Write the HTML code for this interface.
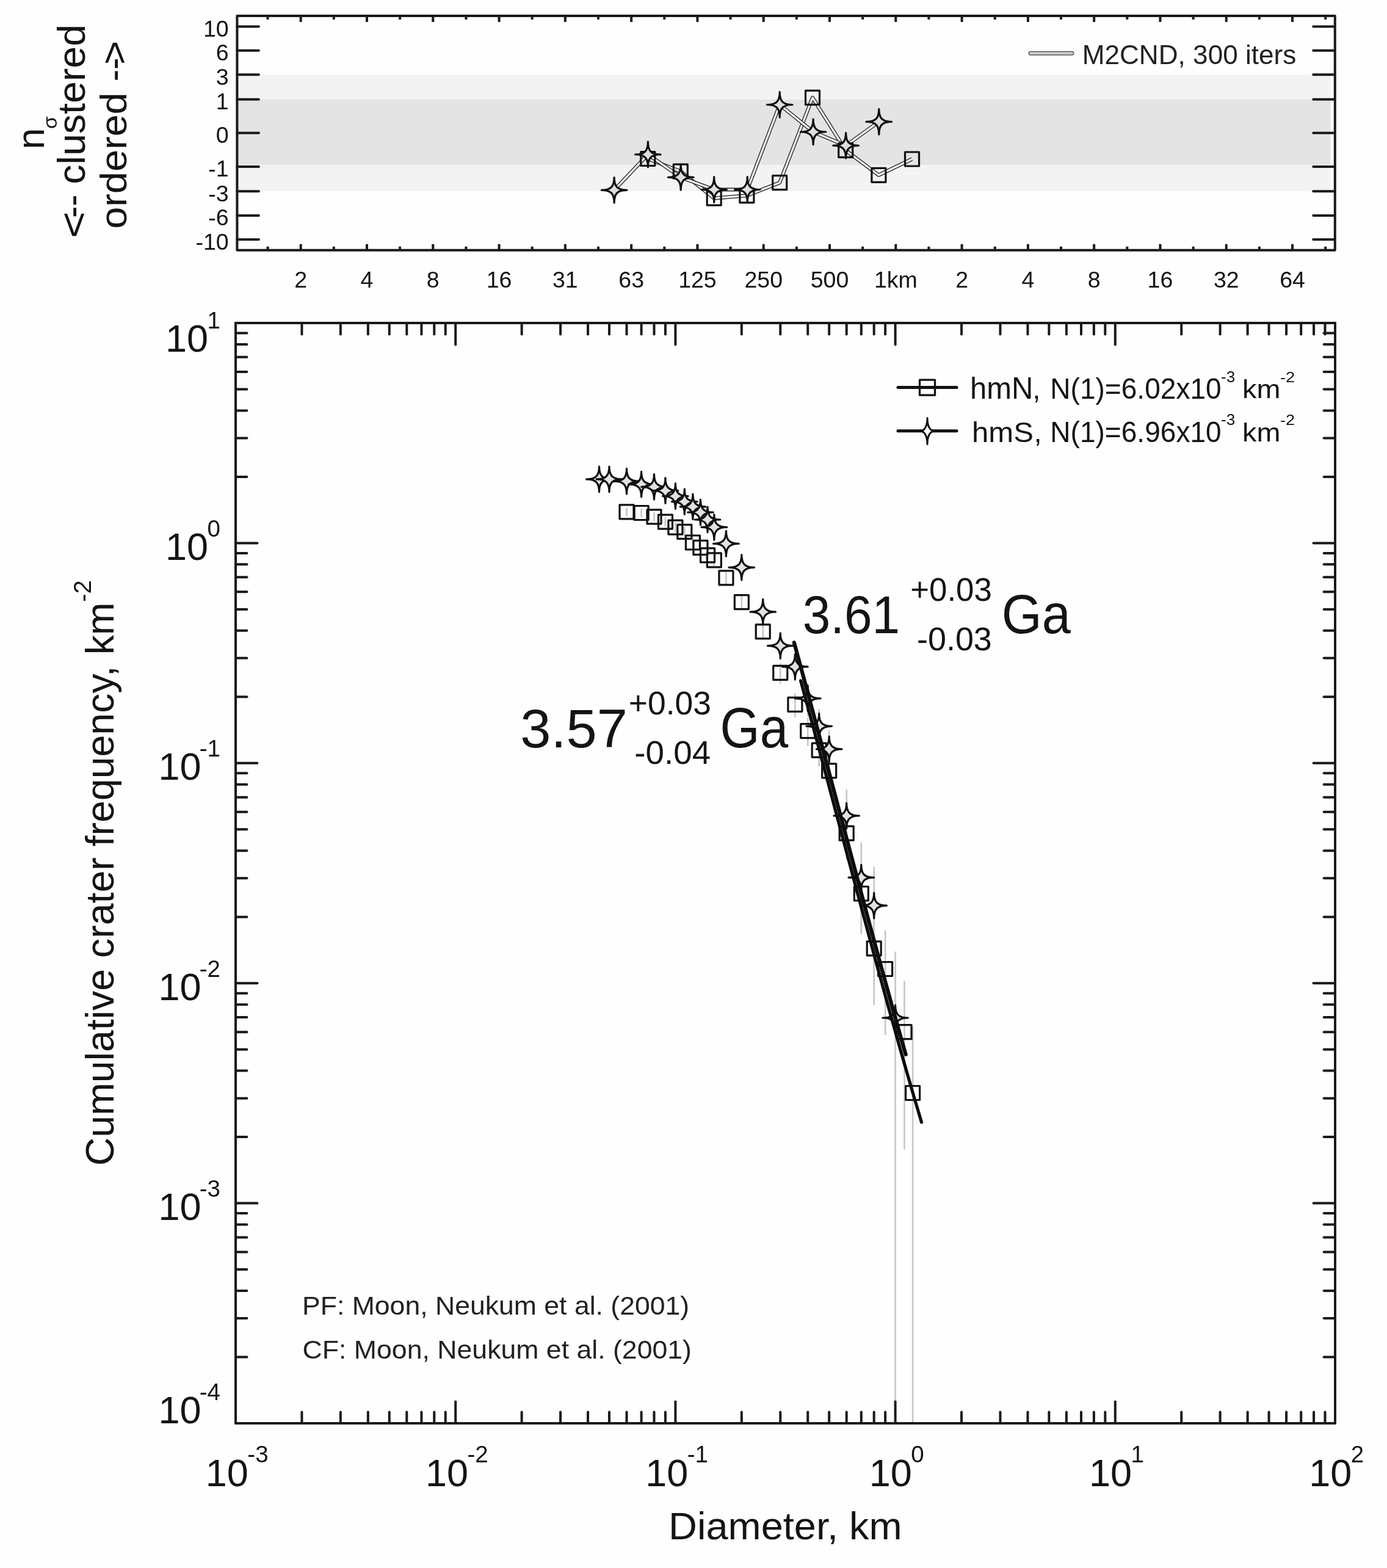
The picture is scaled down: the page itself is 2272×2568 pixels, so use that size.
<!DOCTYPE html>
<html><head><meta charset="utf-8"><title>Crater size-frequency distribution</title>
<style>
html,body{margin:0;padding:0;background:#fefefe;}
svg{display:block;}
text{font-family:'Liberation Sans', Arial, Helvetica, sans-serif;}
</style></head>
<body>
<svg width="2272" height="2568" viewBox="0 0 2272 2568">
<rect width="2272" height="2568" fill="#fefefe"/>
<g>
<rect x="388.4" y="122.5" width="1791.1999999999998" height="190.5" fill="#f3f3f3"/>
<rect x="388.4" y="163" width="1791.1999999999998" height="107" fill="#e4e4e4"/>
<path d="M12,480.5 H87.5 V2566" fill="none" stroke="#fbfbfb" stroke-width="4"/>
<line x1="1026.49" y1="831.3" x2="1026.49" y2="845.63" stroke="#c6c6c6" stroke-width="2.6"/>
<line x1="1050.6" y1="832.96" x2="1050.6" y2="847.37" stroke="#c6c6c6" stroke-width="2.6"/>
<line x1="1071.49" y1="839.12" x2="1071.49" y2="853.82" stroke="#c6c6c6" stroke-width="2.6"/>
<line x1="1089.92" y1="847.24" x2="1089.92" y2="862.33" stroke="#c6c6c6" stroke-width="2.6"/>
<line x1="1106.4" y1="856.03" x2="1106.4" y2="871.56" stroke="#c6c6c6" stroke-width="2.6"/>
<line x1="1121.31" y1="863.15" x2="1121.31" y2="879.05" stroke="#c6c6c6" stroke-width="2.6"/>
<line x1="1134.92" y1="880.32" x2="1134.92" y2="897.14" stroke="#c6c6c6" stroke-width="2.6"/>
<line x1="1147.44" y1="888.5" x2="1147.44" y2="905.78" stroke="#c6c6c6" stroke-width="2.6"/>
<line x1="1159.04" y1="900.57" x2="1159.04" y2="918.54" stroke="#c6c6c6" stroke-width="2.6"/>
<line x1="1169.83" y1="908.35" x2="1169.83" y2="926.79" stroke="#c6c6c6" stroke-width="2.6"/>
<line x1="1189.41" y1="936.51" x2="1189.41" y2="956.74" stroke="#c6c6c6" stroke-width="2.6"/>
<line x1="1214.83" y1="975.12" x2="1214.83" y2="998.12" stroke="#c6c6c6" stroke-width="2.6"/>
<line x1="1249.74" y1="1021.57" x2="1249.74" y2="1048.38" stroke="#c6c6c6" stroke-width="2.6"/>
<line x1="1278.26" y1="1086.13" x2="1278.26" y2="1119.44" stroke="#c6c6c6" stroke-width="2.6"/>
<line x1="1302.37" y1="1135.36" x2="1302.37" y2="1174.7" stroke="#c6c6c6" stroke-width="2.6"/>
<line x1="1323.26" y1="1176" x2="1323.26" y2="1221.5" stroke="#c6c6c6" stroke-width="2.6"/>
<line x1="1341.69" y1="1205.62" x2="1341.69" y2="1255.54" stroke="#c6c6c6" stroke-width="2.6"/>
<line x1="1358.17" y1="1236.82" x2="1358.17" y2="1292.75" stroke="#c6c6c6" stroke-width="2.6"/>
<line x1="1386.69" y1="1330.71" x2="1386.69" y2="1408.18" stroke="#c6c6c6" stroke-width="2.6"/>
<line x1="1410.8" y1="1418.47" x2="1410.8" y2="1526.96" stroke="#c6c6c6" stroke-width="2.6"/>
<line x1="1431.69" y1="1495.44" x2="1431.69" y2="1646.08" stroke="#c6c6c6" stroke-width="2.6"/>
<line x1="1450.12" y1="1523.54" x2="1450.12" y2="1695.49" stroke="#c6c6c6" stroke-width="2.6"/>
<line x1="1481.51" y1="1606.49" x2="1481.51" y2="1882.4" stroke="#c6c6c6" stroke-width="2.6"/>
<line x1="1495.12" y1="1681.51" x2="1495.12" y2="2331" stroke="#c6c6c6" stroke-width="2.6"/>
<line x1="981.49" y1="776.7" x2="981.49" y2="793.55" stroke="#c6c6c6" stroke-width="2.6"/>
<line x1="997.97" y1="776.7" x2="997.97" y2="793.55" stroke="#c6c6c6" stroke-width="2.6"/>
<line x1="1026.49" y1="779.92" x2="1026.49" y2="796.94" stroke="#c6c6c6" stroke-width="2.6"/>
<line x1="1050.6" y1="784.79" x2="1050.6" y2="802.09" stroke="#c6c6c6" stroke-width="2.6"/>
<line x1="1071.49" y1="788.79" x2="1071.49" y2="806.3" stroke="#c6c6c6" stroke-width="2.6"/>
<line x1="1089.92" y1="794.81" x2="1089.92" y2="812.7" stroke="#c6c6c6" stroke-width="2.6"/>
<line x1="1106.4" y1="803.57" x2="1106.4" y2="821.97" stroke="#c6c6c6" stroke-width="2.6"/>
<line x1="1121.31" y1="812.42" x2="1121.31" y2="831.35" stroke="#c6c6c6" stroke-width="2.6"/>
<line x1="1134.92" y1="820.38" x2="1134.92" y2="839.82" stroke="#c6c6c6" stroke-width="2.6"/>
<line x1="1147.44" y1="829.31" x2="1147.44" y2="849.33" stroke="#c6c6c6" stroke-width="2.6"/>
<line x1="1159.04" y1="840.94" x2="1159.04" y2="861.75" stroke="#c6c6c6" stroke-width="2.6"/>
<line x1="1169.83" y1="852.96" x2="1169.83" y2="874.59" stroke="#c6c6c6" stroke-width="2.6"/>
<line x1="1189.41" y1="879.03" x2="1189.41" y2="902.67" stroke="#c6c6c6" stroke-width="2.6"/>
<line x1="1214.83" y1="916.51" x2="1214.83" y2="943.23" stroke="#c6c6c6" stroke-width="2.6"/>
<line x1="1249.74" y1="986.07" x2="1249.74" y2="1019.96" stroke="#c6c6c6" stroke-width="2.6"/>
<line x1="1278.26" y1="1038.74" x2="1278.26" y2="1079.04" stroke="#c6c6c6" stroke-width="2.6"/>
<line x1="1302.37" y1="1071" x2="1302.37" y2="1116.03" stroke="#c6c6c6" stroke-width="2.6"/>
<line x1="1323.26" y1="1119.46" x2="1323.26" y2="1172.88" stroke="#c6c6c6" stroke-width="2.6"/>
<line x1="1341.69" y1="1161.27" x2="1341.69" y2="1223.47" stroke="#c6c6c6" stroke-width="2.6"/>
<line x1="1358.17" y1="1196" x2="1358.17" y2="1265.43" stroke="#c6c6c6" stroke-width="2.6"/>
<line x1="1386.69" y1="1292.99" x2="1386.69" y2="1395.5" stroke="#c6c6c6" stroke-width="2.6"/>
<line x1="1410.8" y1="1379.34" x2="1410.8" y2="1529.98" stroke="#c6c6c6" stroke-width="2.6"/>
<line x1="1431.69" y1="1419.64" x2="1431.69" y2="1591.59" stroke="#c6c6c6" stroke-width="2.6"/>
<line x1="1466.6" y1="1558.51" x2="1466.6" y2="2331" stroke="#c6c6c6" stroke-width="2.6"/>
<rect x="1014.99" y="826.8" width="23" height="23" fill="none" stroke="#111" stroke-width="3.2" stroke-linejoin="round"/>
<rect x="1039.1" y="828.5" width="23" height="23" fill="none" stroke="#111" stroke-width="3.2" stroke-linejoin="round"/>
<rect x="1059.99" y="834.8" width="23" height="23" fill="none" stroke="#111" stroke-width="3.2" stroke-linejoin="round"/>
<rect x="1078.42" y="843.1" width="23" height="23" fill="none" stroke="#111" stroke-width="3.2" stroke-linejoin="round"/>
<rect x="1094.9" y="852.1" width="23" height="23" fill="none" stroke="#111" stroke-width="3.2" stroke-linejoin="round"/>
<rect x="1109.81" y="859.4" width="23" height="23" fill="none" stroke="#111" stroke-width="3.2" stroke-linejoin="round"/>
<rect x="1123.42" y="877" width="23" height="23" fill="none" stroke="#111" stroke-width="3.2" stroke-linejoin="round"/>
<rect x="1135.94" y="885.4" width="23" height="23" fill="none" stroke="#111" stroke-width="3.2" stroke-linejoin="round"/>
<rect x="1147.54" y="897.8" width="23" height="23" fill="none" stroke="#111" stroke-width="3.2" stroke-linejoin="round"/>
<rect x="1158.33" y="905.8" width="23" height="23" fill="none" stroke="#111" stroke-width="3.2" stroke-linejoin="round"/>
<rect x="1177.91" y="934.8" width="23" height="23" fill="none" stroke="#111" stroke-width="3.2" stroke-linejoin="round"/>
<rect x="1203.33" y="974.7" width="23" height="23" fill="none" stroke="#111" stroke-width="3.2" stroke-linejoin="round"/>
<rect x="1238.24" y="1022.9" width="23" height="23" fill="none" stroke="#111" stroke-width="3.2" stroke-linejoin="round"/>
<rect x="1266.76" y="1090.4" width="23" height="23" fill="none" stroke="#111" stroke-width="3.2" stroke-linejoin="round"/>
<rect x="1290.87" y="1142.3" width="23" height="23" fill="none" stroke="#111" stroke-width="3.2" stroke-linejoin="round"/>
<rect x="1311.76" y="1185.6" width="23" height="23" fill="none" stroke="#111" stroke-width="3.2" stroke-linejoin="round"/>
<rect x="1330.19" y="1217.1" width="23" height="23" fill="none" stroke="#111" stroke-width="3.2" stroke-linejoin="round"/>
<rect x="1346.67" y="1250.8" width="23" height="23" fill="none" stroke="#111" stroke-width="3.2" stroke-linejoin="round"/>
<rect x="1375.19" y="1353.2" width="23" height="23" fill="none" stroke="#111" stroke-width="3.2" stroke-linejoin="round"/>
<rect x="1399.3" y="1452" width="23" height="23" fill="none" stroke="#111" stroke-width="3.2" stroke-linejoin="round"/>
<rect x="1420.19" y="1541.8" width="23" height="23" fill="none" stroke="#111" stroke-width="3.2" stroke-linejoin="round"/>
<rect x="1438.62" y="1575.5" width="23" height="23" fill="none" stroke="#111" stroke-width="3.2" stroke-linejoin="round"/>
<rect x="1470.01" y="1678.7" width="23" height="23" fill="none" stroke="#111" stroke-width="3.2" stroke-linejoin="round"/>
<rect x="1483.62" y="1778.5" width="23" height="23" fill="none" stroke="#111" stroke-width="3.2" stroke-linejoin="round"/>
<path d="M981.49,764.1 C981.49,779.3 987.09,784.9 1002.29,784.9 C987.09,784.9 981.49,790.5 981.49,805.7 C981.49,790.5 975.89,784.9 960.69,784.9 C975.89,784.9 981.49,779.3 981.49,764.1 Z" fill="#e2e2e2" stroke="#111" stroke-width="3.2" stroke-linejoin="round"/>
<path d="M997.97,764.1 C997.97,779.3 1003.57,784.9 1018.77,784.9 C1003.57,784.9 997.97,790.5 997.97,805.7 C997.97,790.5 992.37,784.9 977.17,784.9 C992.37,784.9 997.97,779.3 997.97,764.1 Z" fill="#e2e2e2" stroke="#111" stroke-width="3.2" stroke-linejoin="round"/>
<path d="M1026.49,767.4 C1026.49,782.6 1032.09,788.2 1047.29,788.2 C1032.09,788.2 1026.49,793.8 1026.49,809 C1026.49,793.8 1020.89,788.2 1005.69,788.2 C1020.89,788.2 1026.49,782.6 1026.49,767.4 Z" fill="#e2e2e2" stroke="#111" stroke-width="3.2" stroke-linejoin="round"/>
<path d="M1050.6,772.4 C1050.6,787.6 1056.2,793.2 1071.4,793.2 C1056.2,793.2 1050.6,798.8 1050.6,814 C1050.6,798.8 1045,793.2 1029.8,793.2 C1045,793.2 1050.6,787.6 1050.6,772.4 Z" fill="#e2e2e2" stroke="#111" stroke-width="3.2" stroke-linejoin="round"/>
<path d="M1071.49,776.5 C1071.49,791.7 1077.09,797.3 1092.29,797.3 C1077.09,797.3 1071.49,802.9 1071.49,818.1 C1071.49,802.9 1065.89,797.3 1050.69,797.3 C1065.89,797.3 1071.49,791.7 1071.49,776.5 Z" fill="#e2e2e2" stroke="#111" stroke-width="3.2" stroke-linejoin="round"/>
<path d="M1089.92,782.7 C1089.92,797.9 1095.52,803.5 1110.72,803.5 C1095.52,803.5 1089.92,809.1 1089.92,824.3 C1089.92,809.1 1084.32,803.5 1069.12,803.5 C1084.32,803.5 1089.92,797.9 1089.92,782.7 Z" fill="#e2e2e2" stroke="#111" stroke-width="3.2" stroke-linejoin="round"/>
<path d="M1106.4,791.7 C1106.4,806.9 1112,812.5 1127.2,812.5 C1112,812.5 1106.4,818.1 1106.4,833.3 C1106.4,818.1 1100.8,812.5 1085.6,812.5 C1100.8,812.5 1106.4,806.9 1106.4,791.7 Z" fill="#e2e2e2" stroke="#111" stroke-width="3.2" stroke-linejoin="round"/>
<path d="M1121.31,800.8 C1121.31,816 1126.91,821.6 1142.11,821.6 C1126.91,821.6 1121.31,827.2 1121.31,842.4 C1121.31,827.2 1115.71,821.6 1100.51,821.6 C1115.71,821.6 1121.31,816 1121.31,800.8 Z" fill="#e2e2e2" stroke="#111" stroke-width="3.2" stroke-linejoin="round"/>
<path d="M1134.92,809 C1134.92,824.2 1140.52,829.8 1155.72,829.8 C1140.52,829.8 1134.92,835.4 1134.92,850.6 C1134.92,835.4 1129.32,829.8 1114.12,829.8 C1129.32,829.8 1134.92,824.2 1134.92,809 Z" fill="#e2e2e2" stroke="#111" stroke-width="3.2" stroke-linejoin="round"/>
<path d="M1147.44,818.2 C1147.44,833.4 1153.04,839 1168.24,839 C1153.04,839 1147.44,844.6 1147.44,859.8 C1147.44,844.6 1141.84,839 1126.64,839 C1141.84,839 1147.44,833.4 1147.44,818.2 Z" fill="#e2e2e2" stroke="#111" stroke-width="3.2" stroke-linejoin="round"/>
<path d="M1159.04,830.2 C1159.04,845.4 1164.64,851 1179.84,851 C1164.64,851 1159.04,856.6 1159.04,871.8 C1159.04,856.6 1153.44,851 1138.24,851 C1153.44,851 1159.04,845.4 1159.04,830.2 Z" fill="#e2e2e2" stroke="#111" stroke-width="3.2" stroke-linejoin="round"/>
<path d="M1169.83,842.6 C1169.83,857.8 1175.43,863.4 1190.63,863.4 C1175.43,863.4 1169.83,869 1169.83,884.2 C1169.83,869 1164.23,863.4 1149.03,863.4 C1164.23,863.4 1169.83,857.8 1169.83,842.6 Z" fill="#e2e2e2" stroke="#111" stroke-width="3.2" stroke-linejoin="round"/>
<path d="M1189.41,869.6 C1189.41,884.8 1195.01,890.4 1210.21,890.4 C1195.01,890.4 1189.41,896 1189.41,911.2 C1189.41,896 1183.81,890.4 1168.61,890.4 C1183.81,890.4 1189.41,884.8 1189.41,869.6 Z" fill="#e2e2e2" stroke="#111" stroke-width="3.2" stroke-linejoin="round"/>
<path d="M1214.83,908.5 C1214.83,923.7 1220.43,929.3 1235.63,929.3 C1220.43,929.3 1214.83,934.9 1214.83,950.1 C1214.83,934.9 1209.23,929.3 1194.03,929.3 C1209.23,929.3 1214.83,923.7 1214.83,908.5 Z" fill="#e2e2e2" stroke="#111" stroke-width="3.2" stroke-linejoin="round"/>
<path d="M1249.74,981.3 C1249.74,996.5 1255.34,1002.1 1270.54,1002.1 C1255.34,1002.1 1249.74,1007.7 1249.74,1022.9 C1249.74,1007.7 1244.14,1002.1 1228.94,1002.1 C1244.14,1002.1 1249.74,996.5 1249.74,981.3 Z" fill="#e2e2e2" stroke="#111" stroke-width="3.2" stroke-linejoin="round"/>
<path d="M1278.26,1036.8 C1278.26,1052 1283.86,1057.6 1299.06,1057.6 C1283.86,1057.6 1278.26,1063.2 1278.26,1078.4 C1278.26,1063.2 1272.66,1057.6 1257.46,1057.6 C1272.66,1057.6 1278.26,1052 1278.26,1036.8 Z" fill="#e2e2e2" stroke="#111" stroke-width="3.2" stroke-linejoin="round"/>
<path d="M1302.37,1071.1 C1302.37,1086.3 1307.97,1091.9 1323.17,1091.9 C1307.97,1091.9 1302.37,1097.5 1302.37,1112.7 C1302.37,1097.5 1296.77,1091.9 1281.57,1091.9 C1296.77,1091.9 1302.37,1086.3 1302.37,1071.1 Z" fill="#e2e2e2" stroke="#111" stroke-width="3.2" stroke-linejoin="round"/>
<path d="M1323.26,1123.1 C1323.26,1138.3 1328.86,1143.9 1344.06,1143.9 C1328.86,1143.9 1323.26,1149.5 1323.26,1164.7 C1323.26,1149.5 1317.66,1143.9 1302.46,1143.9 C1317.66,1143.9 1323.26,1138.3 1323.26,1123.1 Z" fill="#e2e2e2" stroke="#111" stroke-width="3.2" stroke-linejoin="round"/>
<path d="M1341.69,1168.5 C1341.69,1183.7 1347.29,1189.3 1362.49,1189.3 C1347.29,1189.3 1341.69,1194.9 1341.69,1210.1 C1341.69,1194.9 1336.09,1189.3 1320.89,1189.3 C1336.09,1189.3 1341.69,1183.7 1341.69,1168.5 Z" fill="#e2e2e2" stroke="#111" stroke-width="3.2" stroke-linejoin="round"/>
<path d="M1358.17,1206.1 C1358.17,1221.3 1363.77,1226.9 1378.97,1226.9 C1363.77,1226.9 1358.17,1232.5 1358.17,1247.7 C1358.17,1232.5 1352.57,1226.9 1337.37,1226.9 C1352.57,1226.9 1358.17,1221.3 1358.17,1206.1 Z" fill="#e2e2e2" stroke="#111" stroke-width="3.2" stroke-linejoin="round"/>
<path d="M1386.69,1315.2 C1386.69,1330.4 1392.29,1336 1407.49,1336 C1392.29,1336 1386.69,1341.6 1386.69,1356.8 C1386.69,1341.6 1381.09,1336 1365.89,1336 C1381.09,1336 1386.69,1330.4 1386.69,1315.2 Z" fill="#e2e2e2" stroke="#111" stroke-width="3.2" stroke-linejoin="round"/>
<path d="M1410.8,1416.4 C1410.8,1431.6 1416.4,1437.2 1431.6,1437.2 C1416.4,1437.2 1410.8,1442.8 1410.8,1458 C1410.8,1442.8 1405.2,1437.2 1390,1437.2 C1405.2,1437.2 1410.8,1431.6 1410.8,1416.4 Z" fill="#e2e2e2" stroke="#111" stroke-width="3.2" stroke-linejoin="round"/>
<path d="M1431.69,1462.3 C1431.69,1477.5 1437.29,1483.1 1452.49,1483.1 C1437.29,1483.1 1431.69,1488.7 1431.69,1503.9 C1431.69,1488.7 1426.09,1483.1 1410.89,1483.1 C1426.09,1483.1 1431.69,1477.5 1431.69,1462.3 Z" fill="#e2e2e2" stroke="#111" stroke-width="3.2" stroke-linejoin="round"/>
<path d="M1466.6,1646.2 C1466.6,1661.4 1472.2,1667 1487.4,1667 C1472.2,1667 1466.6,1672.6 1466.6,1687.8 C1466.6,1672.6 1461,1667 1445.8,1667 C1461,1667 1466.6,1661.4 1466.6,1646.2 Z" fill="#e2e2e2" stroke="#111" stroke-width="3.2" stroke-linejoin="round"/>
<polyline points="1300.8,1052.32 1303.85,1063.49 1306.9,1074.69 1309.94,1085.91 1312.99,1097.15 1316.04,1108.41 1319.08,1119.68 1322.13,1130.98 1325.18,1142.29 1328.23,1153.61 1331.27,1164.95 1334.32,1176.31 1337.37,1187.68 1340.41,1199.06 1343.46,1210.45 1346.51,1221.85 1349.56,1233.26 1352.6,1244.68 1355.65,1256.11 1358.7,1267.55 1361.74,1278.99 1364.79,1290.43 1367.84,1301.88 1370.88,1313.33 1373.93,1324.78 1376.98,1336.23 1380.03,1347.67 1383.07,1359.12 1386.12,1370.56 1389.17,1382 1392.21,1393.43 1395.26,1404.85 1398.31,1416.27 1401.36,1427.67 1404.4,1439.06 1407.45,1450.44 1410.5,1461.81 1413.54,1473.16 1416.59,1484.49 1419.64,1495.81 1422.69,1507.1 1425.73,1518.38 1428.78,1529.63 1431.83,1540.86 1434.87,1552.07 1437.92,1563.25 1440.97,1574.4 1444.02,1585.52 1447.06,1596.61 1450.11,1607.67 1453.16,1618.7 1456.2,1629.69 1459.25,1640.65 1462.3,1651.57 1465.35,1662.46 1468.39,1673.3 1471.44,1684.1 1474.49,1694.86 1477.53,1705.57 1480.58,1716.24 1483.63,1726.87" fill="none" stroke="#0d0d0d" stroke-width="6.2" stroke-linecap="round" stroke-linejoin="round"/>
<polyline points="1311.61,1114.79 1314.91,1126.97 1318.21,1139.17 1321.51,1151.39 1324.81,1163.63 1328.11,1175.89 1331.41,1188.17 1334.71,1200.47 1338.01,1212.78 1341.31,1225.1 1344.61,1237.44 1347.9,1249.79 1351.2,1262.15 1354.5,1274.52 1357.8,1286.9 1361.1,1299.28 1364.4,1311.67 1367.7,1324.06 1371,1336.46 1374.3,1348.85 1377.6,1361.25 1380.89,1373.65 1384.19,1386.04 1387.49,1398.42 1390.79,1410.8 1394.09,1423.17 1397.39,1435.53 1400.69,1447.88 1403.99,1460.22 1407.29,1472.54 1410.59,1484.85 1413.88,1497.13 1417.18,1509.4 1420.48,1521.65 1423.78,1533.87 1427.08,1546.07 1430.38,1558.24 1433.68,1570.38 1436.98,1582.5 1440.28,1594.58 1443.58,1606.62 1446.87,1618.64 1450.17,1630.61 1453.47,1642.55 1456.77,1654.45 1460.07,1666.3 1463.37,1678.11 1466.67,1689.88 1469.97,1701.6 1473.27,1713.27 1476.57,1724.88 1479.86,1736.45 1483.16,1747.96 1486.46,1759.42 1489.76,1770.82 1493.06,1782.16 1496.36,1793.44 1499.66,1804.66 1502.96,1815.81 1506.26,1826.9 1509.56,1837.92" fill="none" stroke="#0d0d0d" stroke-width="5.2" stroke-linecap="round" stroke-linejoin="round"/>
<line x1="1471" y1="634.6" x2="1567" y2="634.6" stroke="#111" stroke-width="5" stroke-linecap="round"/>
<rect x="1506.5" y="622.2" width="25" height="25" fill="none" stroke="#111" stroke-width="3.3" stroke-linejoin="round"/>
<line x1="1471" y1="705.8" x2="1567" y2="705.8" stroke="#111" stroke-width="5" stroke-linecap="round"/>
<path d="M1519,684.5 C1519,698 1523.47,706 1531,706 C1523.47,706 1519,714 1519,727.5 C1519,714 1514.53,706 1507,706 C1514.53,706 1519,698 1519,684.5 Z" fill="#fff" stroke="#111" stroke-width="3" stroke-linejoin="round"/>
<polyline points="1061.3,260 1114.8,280.7 1169.7,324.7 1223.4,320.3 1277.2,299.2 1331,159.8 1385.2,246.2 1439.4,286.8 1494,260.5" fill="none" stroke="#2a2a2a" stroke-width="6" stroke-linejoin="round"/>
<polyline points="1061.3,260 1114.8,280.7 1169.7,324.7 1223.4,320.3 1277.2,299.2 1331,159.8 1385.2,246.2 1439.4,286.8 1494,260.5" fill="none" stroke="#f4f4f4" stroke-width="3.2" stroke-linejoin="round"/>
<polyline points="1006.1,311.3 1061.4,253 1115.2,290.4 1169.7,310.5 1224.2,310.5 1277.2,171.5 1332.1,216 1385.6,238.4 1439.8,199.4" fill="none" stroke="#2a2a2a" stroke-width="6" stroke-linejoin="round"/>
<polyline points="1006.1,311.3 1061.4,253 1115.2,290.4 1169.7,310.5 1224.2,310.5 1277.2,171.5 1332.1,216 1385.6,238.4 1439.8,199.4" fill="none" stroke="#f4f4f4" stroke-width="3.2" stroke-linejoin="round"/>
<rect x="1049.8" y="248.5" width="23" height="23" fill="none" stroke="#111" stroke-width="3.2" stroke-linejoin="round"/>
<rect x="1103.3" y="269.2" width="23" height="23" fill="none" stroke="#111" stroke-width="3.2" stroke-linejoin="round"/>
<rect x="1158.2" y="313.2" width="23" height="23" fill="none" stroke="#111" stroke-width="3.2" stroke-linejoin="round"/>
<rect x="1211.9" y="308.8" width="23" height="23" fill="none" stroke="#111" stroke-width="3.2" stroke-linejoin="round"/>
<rect x="1265.7" y="287.7" width="23" height="23" fill="none" stroke="#111" stroke-width="3.2" stroke-linejoin="round"/>
<rect x="1319.5" y="148.3" width="23" height="23" fill="none" stroke="#111" stroke-width="3.2" stroke-linejoin="round"/>
<rect x="1373.7" y="234.7" width="23" height="23" fill="none" stroke="#111" stroke-width="3.2" stroke-linejoin="round"/>
<rect x="1427.9" y="275.3" width="23" height="23" fill="none" stroke="#111" stroke-width="3.2" stroke-linejoin="round"/>
<rect x="1482.5" y="249" width="23" height="23" fill="none" stroke="#111" stroke-width="3.2" stroke-linejoin="round"/>
<path d="M1006.1,290.5 C1006.1,305.7 1011.7,311.3 1026.9,311.3 C1011.7,311.3 1006.1,316.9 1006.1,332.1 C1006.1,316.9 1000.5,311.3 985.3,311.3 C1000.5,311.3 1006.1,305.7 1006.1,290.5 Z" fill="#dedede" stroke="#111" stroke-width="3.2" stroke-linejoin="round"/>
<path d="M1061.4,232.2 C1061.4,247.4 1067,253 1082.2,253 C1067,253 1061.4,258.6 1061.4,273.8 C1061.4,258.6 1055.8,253 1040.6,253 C1055.8,253 1061.4,247.4 1061.4,232.2 Z" fill="#dedede" stroke="#111" stroke-width="3.2" stroke-linejoin="round"/>
<path d="M1115.2,269.6 C1115.2,284.8 1120.8,290.4 1136,290.4 C1120.8,290.4 1115.2,296 1115.2,311.2 C1115.2,296 1109.6,290.4 1094.4,290.4 C1109.6,290.4 1115.2,284.8 1115.2,269.6 Z" fill="#dedede" stroke="#111" stroke-width="3.2" stroke-linejoin="round"/>
<path d="M1169.7,289.7 C1169.7,304.9 1175.3,310.5 1190.5,310.5 C1175.3,310.5 1169.7,316.1 1169.7,331.3 C1169.7,316.1 1164.1,310.5 1148.9,310.5 C1164.1,310.5 1169.7,304.9 1169.7,289.7 Z" fill="#dedede" stroke="#111" stroke-width="3.2" stroke-linejoin="round"/>
<path d="M1224.2,289.7 C1224.2,304.9 1229.8,310.5 1245,310.5 C1229.8,310.5 1224.2,316.1 1224.2,331.3 C1224.2,316.1 1218.6,310.5 1203.4,310.5 C1218.6,310.5 1224.2,304.9 1224.2,289.7 Z" fill="#dedede" stroke="#111" stroke-width="3.2" stroke-linejoin="round"/>
<path d="M1277.2,150.7 C1277.2,165.9 1282.8,171.5 1298,171.5 C1282.8,171.5 1277.2,177.1 1277.2,192.3 C1277.2,177.1 1271.6,171.5 1256.4,171.5 C1271.6,171.5 1277.2,165.9 1277.2,150.7 Z" fill="#dedede" stroke="#111" stroke-width="3.2" stroke-linejoin="round"/>
<path d="M1332.1,195.2 C1332.1,210.4 1337.7,216 1352.9,216 C1337.7,216 1332.1,221.6 1332.1,236.8 C1332.1,221.6 1326.5,216 1311.3,216 C1326.5,216 1332.1,210.4 1332.1,195.2 Z" fill="#dedede" stroke="#111" stroke-width="3.2" stroke-linejoin="round"/>
<path d="M1385.6,217.6 C1385.6,232.8 1391.2,238.4 1406.4,238.4 C1391.2,238.4 1385.6,244 1385.6,259.2 C1385.6,244 1380,238.4 1364.8,238.4 C1380,238.4 1385.6,232.8 1385.6,217.6 Z" fill="#dedede" stroke="#111" stroke-width="3.2" stroke-linejoin="round"/>
<path d="M1439.8,178.6 C1439.8,193.8 1445.4,199.4 1460.6,199.4 C1445.4,199.4 1439.8,205 1439.8,220.2 C1439.8,205 1434.2,199.4 1419,199.4 C1434.2,199.4 1439.8,193.8 1439.8,178.6 Z" fill="#dedede" stroke="#111" stroke-width="3.2" stroke-linejoin="round"/>
<line x1="388.4" y1="43.45" x2="423.9" y2="43.45" stroke="#1a1a1a" stroke-width="4" stroke-linecap="round"/>
<line x1="2186.8" y1="43.45" x2="2151.3" y2="43.45" stroke="#1a1a1a" stroke-width="4" stroke-linecap="round"/>
<line x1="388.4" y1="82.76" x2="423.9" y2="82.76" stroke="#1a1a1a" stroke-width="4" stroke-linecap="round"/>
<line x1="2186.8" y1="82.76" x2="2151.3" y2="82.76" stroke="#1a1a1a" stroke-width="4" stroke-linecap="round"/>
<line x1="388.4" y1="122.33" x2="423.9" y2="122.33" stroke="#1a1a1a" stroke-width="4" stroke-linecap="round"/>
<line x1="2186.8" y1="122.33" x2="2151.3" y2="122.33" stroke="#1a1a1a" stroke-width="4" stroke-linecap="round"/>
<line x1="388.4" y1="162.7" x2="423.9" y2="162.7" stroke="#1a1a1a" stroke-width="4" stroke-linecap="round"/>
<line x1="2186.8" y1="162.7" x2="2151.3" y2="162.7" stroke="#1a1a1a" stroke-width="4" stroke-linecap="round"/>
<line x1="388.4" y1="217.85" x2="423.9" y2="217.85" stroke="#1a1a1a" stroke-width="4" stroke-linecap="round"/>
<line x1="2186.8" y1="217.85" x2="2151.3" y2="217.85" stroke="#1a1a1a" stroke-width="4" stroke-linecap="round"/>
<line x1="388.4" y1="273" x2="423.9" y2="273" stroke="#1a1a1a" stroke-width="4" stroke-linecap="round"/>
<line x1="2186.8" y1="273" x2="2151.3" y2="273" stroke="#1a1a1a" stroke-width="4" stroke-linecap="round"/>
<line x1="388.4" y1="313.37" x2="423.9" y2="313.37" stroke="#1a1a1a" stroke-width="4" stroke-linecap="round"/>
<line x1="2186.8" y1="313.37" x2="2151.3" y2="313.37" stroke="#1a1a1a" stroke-width="4" stroke-linecap="round"/>
<line x1="388.4" y1="352.94" x2="423.9" y2="352.94" stroke="#1a1a1a" stroke-width="4" stroke-linecap="round"/>
<line x1="2186.8" y1="352.94" x2="2151.3" y2="352.94" stroke="#1a1a1a" stroke-width="4" stroke-linecap="round"/>
<line x1="388.4" y1="392.25" x2="423.9" y2="392.25" stroke="#1a1a1a" stroke-width="4" stroke-linecap="round"/>
<line x1="2186.8" y1="392.25" x2="2151.3" y2="392.25" stroke="#1a1a1a" stroke-width="4" stroke-linecap="round"/>
<line x1="492.7" y1="409.8" x2="492.7" y2="399.8" stroke="#1a1a1a" stroke-width="4" stroke-linecap="butt"/>
<line x1="492.7" y1="26" x2="492.7" y2="36" stroke="#1a1a1a" stroke-width="4" stroke-linecap="butt"/>
<line x1="438.55" y1="409.8" x2="438.55" y2="403.8" stroke="#1a1a1a" stroke-width="4" stroke-linecap="butt"/>
<line x1="438.55" y1="26" x2="438.55" y2="32" stroke="#1a1a1a" stroke-width="4" stroke-linecap="butt"/>
<line x1="600.99" y1="409.8" x2="600.99" y2="399.8" stroke="#1a1a1a" stroke-width="4" stroke-linecap="butt"/>
<line x1="600.99" y1="26" x2="600.99" y2="36" stroke="#1a1a1a" stroke-width="4" stroke-linecap="butt"/>
<line x1="546.84" y1="409.8" x2="546.84" y2="403.8" stroke="#1a1a1a" stroke-width="4" stroke-linecap="butt"/>
<line x1="546.84" y1="26" x2="546.84" y2="32" stroke="#1a1a1a" stroke-width="4" stroke-linecap="butt"/>
<line x1="709.28" y1="409.8" x2="709.28" y2="399.8" stroke="#1a1a1a" stroke-width="4" stroke-linecap="butt"/>
<line x1="709.28" y1="26" x2="709.28" y2="36" stroke="#1a1a1a" stroke-width="4" stroke-linecap="butt"/>
<line x1="655.13" y1="409.8" x2="655.13" y2="403.8" stroke="#1a1a1a" stroke-width="4" stroke-linecap="butt"/>
<line x1="655.13" y1="26" x2="655.13" y2="32" stroke="#1a1a1a" stroke-width="4" stroke-linecap="butt"/>
<line x1="817.57" y1="409.8" x2="817.57" y2="399.8" stroke="#1a1a1a" stroke-width="4" stroke-linecap="butt"/>
<line x1="817.57" y1="26" x2="817.57" y2="36" stroke="#1a1a1a" stroke-width="4" stroke-linecap="butt"/>
<line x1="763.42" y1="409.8" x2="763.42" y2="403.8" stroke="#1a1a1a" stroke-width="4" stroke-linecap="butt"/>
<line x1="763.42" y1="26" x2="763.42" y2="32" stroke="#1a1a1a" stroke-width="4" stroke-linecap="butt"/>
<line x1="925.86" y1="409.8" x2="925.86" y2="399.8" stroke="#1a1a1a" stroke-width="4" stroke-linecap="butt"/>
<line x1="925.86" y1="26" x2="925.86" y2="36" stroke="#1a1a1a" stroke-width="4" stroke-linecap="butt"/>
<line x1="871.71" y1="409.8" x2="871.71" y2="403.8" stroke="#1a1a1a" stroke-width="4" stroke-linecap="butt"/>
<line x1="871.71" y1="26" x2="871.71" y2="32" stroke="#1a1a1a" stroke-width="4" stroke-linecap="butt"/>
<line x1="1034.15" y1="409.8" x2="1034.15" y2="399.8" stroke="#1a1a1a" stroke-width="4" stroke-linecap="butt"/>
<line x1="1034.15" y1="26" x2="1034.15" y2="36" stroke="#1a1a1a" stroke-width="4" stroke-linecap="butt"/>
<line x1="980" y1="409.8" x2="980" y2="403.8" stroke="#1a1a1a" stroke-width="4" stroke-linecap="butt"/>
<line x1="980" y1="26" x2="980" y2="32" stroke="#1a1a1a" stroke-width="4" stroke-linecap="butt"/>
<line x1="1142.44" y1="409.8" x2="1142.44" y2="399.8" stroke="#1a1a1a" stroke-width="4" stroke-linecap="butt"/>
<line x1="1142.44" y1="26" x2="1142.44" y2="36" stroke="#1a1a1a" stroke-width="4" stroke-linecap="butt"/>
<line x1="1088.29" y1="409.8" x2="1088.29" y2="403.8" stroke="#1a1a1a" stroke-width="4" stroke-linecap="butt"/>
<line x1="1088.29" y1="26" x2="1088.29" y2="32" stroke="#1a1a1a" stroke-width="4" stroke-linecap="butt"/>
<line x1="1250.73" y1="409.8" x2="1250.73" y2="399.8" stroke="#1a1a1a" stroke-width="4" stroke-linecap="butt"/>
<line x1="1250.73" y1="26" x2="1250.73" y2="36" stroke="#1a1a1a" stroke-width="4" stroke-linecap="butt"/>
<line x1="1196.58" y1="409.8" x2="1196.58" y2="403.8" stroke="#1a1a1a" stroke-width="4" stroke-linecap="butt"/>
<line x1="1196.58" y1="26" x2="1196.58" y2="32" stroke="#1a1a1a" stroke-width="4" stroke-linecap="butt"/>
<line x1="1359.02" y1="409.8" x2="1359.02" y2="399.8" stroke="#1a1a1a" stroke-width="4" stroke-linecap="butt"/>
<line x1="1359.02" y1="26" x2="1359.02" y2="36" stroke="#1a1a1a" stroke-width="4" stroke-linecap="butt"/>
<line x1="1304.87" y1="409.8" x2="1304.87" y2="403.8" stroke="#1a1a1a" stroke-width="4" stroke-linecap="butt"/>
<line x1="1304.87" y1="26" x2="1304.87" y2="32" stroke="#1a1a1a" stroke-width="4" stroke-linecap="butt"/>
<line x1="1467.31" y1="409.8" x2="1467.31" y2="399.8" stroke="#1a1a1a" stroke-width="4" stroke-linecap="butt"/>
<line x1="1467.31" y1="26" x2="1467.31" y2="36" stroke="#1a1a1a" stroke-width="4" stroke-linecap="butt"/>
<line x1="1413.16" y1="409.8" x2="1413.16" y2="403.8" stroke="#1a1a1a" stroke-width="4" stroke-linecap="butt"/>
<line x1="1413.16" y1="26" x2="1413.16" y2="32" stroke="#1a1a1a" stroke-width="4" stroke-linecap="butt"/>
<line x1="1575.6" y1="409.8" x2="1575.6" y2="399.8" stroke="#1a1a1a" stroke-width="4" stroke-linecap="butt"/>
<line x1="1575.6" y1="26" x2="1575.6" y2="36" stroke="#1a1a1a" stroke-width="4" stroke-linecap="butt"/>
<line x1="1521.45" y1="409.8" x2="1521.45" y2="403.8" stroke="#1a1a1a" stroke-width="4" stroke-linecap="butt"/>
<line x1="1521.45" y1="26" x2="1521.45" y2="32" stroke="#1a1a1a" stroke-width="4" stroke-linecap="butt"/>
<line x1="1683.89" y1="409.8" x2="1683.89" y2="399.8" stroke="#1a1a1a" stroke-width="4" stroke-linecap="butt"/>
<line x1="1683.89" y1="26" x2="1683.89" y2="36" stroke="#1a1a1a" stroke-width="4" stroke-linecap="butt"/>
<line x1="1629.74" y1="409.8" x2="1629.74" y2="403.8" stroke="#1a1a1a" stroke-width="4" stroke-linecap="butt"/>
<line x1="1629.74" y1="26" x2="1629.74" y2="32" stroke="#1a1a1a" stroke-width="4" stroke-linecap="butt"/>
<line x1="1792.18" y1="409.8" x2="1792.18" y2="399.8" stroke="#1a1a1a" stroke-width="4" stroke-linecap="butt"/>
<line x1="1792.18" y1="26" x2="1792.18" y2="36" stroke="#1a1a1a" stroke-width="4" stroke-linecap="butt"/>
<line x1="1738.03" y1="409.8" x2="1738.03" y2="403.8" stroke="#1a1a1a" stroke-width="4" stroke-linecap="butt"/>
<line x1="1738.03" y1="26" x2="1738.03" y2="32" stroke="#1a1a1a" stroke-width="4" stroke-linecap="butt"/>
<line x1="1900.47" y1="409.8" x2="1900.47" y2="399.8" stroke="#1a1a1a" stroke-width="4" stroke-linecap="butt"/>
<line x1="1900.47" y1="26" x2="1900.47" y2="36" stroke="#1a1a1a" stroke-width="4" stroke-linecap="butt"/>
<line x1="1846.32" y1="409.8" x2="1846.32" y2="403.8" stroke="#1a1a1a" stroke-width="4" stroke-linecap="butt"/>
<line x1="1846.32" y1="26" x2="1846.32" y2="32" stroke="#1a1a1a" stroke-width="4" stroke-linecap="butt"/>
<line x1="2008.76" y1="409.8" x2="2008.76" y2="399.8" stroke="#1a1a1a" stroke-width="4" stroke-linecap="butt"/>
<line x1="2008.76" y1="26" x2="2008.76" y2="36" stroke="#1a1a1a" stroke-width="4" stroke-linecap="butt"/>
<line x1="1954.61" y1="409.8" x2="1954.61" y2="403.8" stroke="#1a1a1a" stroke-width="4" stroke-linecap="butt"/>
<line x1="1954.61" y1="26" x2="1954.61" y2="32" stroke="#1a1a1a" stroke-width="4" stroke-linecap="butt"/>
<line x1="2117.05" y1="409.8" x2="2117.05" y2="399.8" stroke="#1a1a1a" stroke-width="4" stroke-linecap="butt"/>
<line x1="2117.05" y1="26" x2="2117.05" y2="36" stroke="#1a1a1a" stroke-width="4" stroke-linecap="butt"/>
<line x1="2062.9" y1="409.8" x2="2062.9" y2="403.8" stroke="#1a1a1a" stroke-width="4" stroke-linecap="butt"/>
<line x1="2062.9" y1="26" x2="2062.9" y2="32" stroke="#1a1a1a" stroke-width="4" stroke-linecap="butt"/>
<line x1="2171.19" y1="409.8" x2="2171.19" y2="403.8" stroke="#1a1a1a" stroke-width="4" stroke-linecap="butt"/>
<line x1="2171.19" y1="26" x2="2171.19" y2="32" stroke="#1a1a1a" stroke-width="4" stroke-linecap="butt"/>
<rect x="388.4" y="26.0" width="1798.4" height="383.8" fill="none" stroke="#1a1a1a" stroke-width="4" stroke-linejoin="round"/>
<line x1="386" y1="2331" x2="421.4" y2="2331" stroke="#1a1a1a" stroke-width="4" stroke-linecap="round"/>
<line x1="2187" y1="2331" x2="2151.6" y2="2331" stroke="#1a1a1a" stroke-width="4" stroke-linecap="round"/>
<line x1="386" y1="2222.51" x2="404.4" y2="2222.51" stroke="#1a1a1a" stroke-width="4" stroke-linecap="round"/>
<line x1="2187" y1="2222.51" x2="2168.6" y2="2222.51" stroke="#1a1a1a" stroke-width="4" stroke-linecap="round"/>
<line x1="386" y1="2159.05" x2="404.4" y2="2159.05" stroke="#1a1a1a" stroke-width="4" stroke-linecap="round"/>
<line x1="2187" y1="2159.05" x2="2168.6" y2="2159.05" stroke="#1a1a1a" stroke-width="4" stroke-linecap="round"/>
<line x1="386" y1="2114.02" x2="404.4" y2="2114.02" stroke="#1a1a1a" stroke-width="4" stroke-linecap="round"/>
<line x1="2187" y1="2114.02" x2="2168.6" y2="2114.02" stroke="#1a1a1a" stroke-width="4" stroke-linecap="round"/>
<line x1="386" y1="2079.09" x2="404.4" y2="2079.09" stroke="#1a1a1a" stroke-width="4" stroke-linecap="round"/>
<line x1="2187" y1="2079.09" x2="2168.6" y2="2079.09" stroke="#1a1a1a" stroke-width="4" stroke-linecap="round"/>
<line x1="386" y1="2050.55" x2="404.4" y2="2050.55" stroke="#1a1a1a" stroke-width="4" stroke-linecap="round"/>
<line x1="2187" y1="2050.55" x2="2168.6" y2="2050.55" stroke="#1a1a1a" stroke-width="4" stroke-linecap="round"/>
<line x1="386" y1="2026.43" x2="404.4" y2="2026.43" stroke="#1a1a1a" stroke-width="4" stroke-linecap="round"/>
<line x1="2187" y1="2026.43" x2="2168.6" y2="2026.43" stroke="#1a1a1a" stroke-width="4" stroke-linecap="round"/>
<line x1="386" y1="2005.53" x2="404.4" y2="2005.53" stroke="#1a1a1a" stroke-width="4" stroke-linecap="round"/>
<line x1="2187" y1="2005.53" x2="2168.6" y2="2005.53" stroke="#1a1a1a" stroke-width="4" stroke-linecap="round"/>
<line x1="386" y1="1987.09" x2="404.4" y2="1987.09" stroke="#1a1a1a" stroke-width="4" stroke-linecap="round"/>
<line x1="2187" y1="1987.09" x2="2168.6" y2="1987.09" stroke="#1a1a1a" stroke-width="4" stroke-linecap="round"/>
<line x1="386" y1="1970.6" x2="421.4" y2="1970.6" stroke="#1a1a1a" stroke-width="4" stroke-linecap="round"/>
<line x1="2187" y1="1970.6" x2="2151.6" y2="1970.6" stroke="#1a1a1a" stroke-width="4" stroke-linecap="round"/>
<line x1="386" y1="1862.11" x2="404.4" y2="1862.11" stroke="#1a1a1a" stroke-width="4" stroke-linecap="round"/>
<line x1="2187" y1="1862.11" x2="2168.6" y2="1862.11" stroke="#1a1a1a" stroke-width="4" stroke-linecap="round"/>
<line x1="386" y1="1798.65" x2="404.4" y2="1798.65" stroke="#1a1a1a" stroke-width="4" stroke-linecap="round"/>
<line x1="2187" y1="1798.65" x2="2168.6" y2="1798.65" stroke="#1a1a1a" stroke-width="4" stroke-linecap="round"/>
<line x1="386" y1="1753.62" x2="404.4" y2="1753.62" stroke="#1a1a1a" stroke-width="4" stroke-linecap="round"/>
<line x1="2187" y1="1753.62" x2="2168.6" y2="1753.62" stroke="#1a1a1a" stroke-width="4" stroke-linecap="round"/>
<line x1="386" y1="1718.69" x2="404.4" y2="1718.69" stroke="#1a1a1a" stroke-width="4" stroke-linecap="round"/>
<line x1="2187" y1="1718.69" x2="2168.6" y2="1718.69" stroke="#1a1a1a" stroke-width="4" stroke-linecap="round"/>
<line x1="386" y1="1690.15" x2="404.4" y2="1690.15" stroke="#1a1a1a" stroke-width="4" stroke-linecap="round"/>
<line x1="2187" y1="1690.15" x2="2168.6" y2="1690.15" stroke="#1a1a1a" stroke-width="4" stroke-linecap="round"/>
<line x1="386" y1="1666.03" x2="404.4" y2="1666.03" stroke="#1a1a1a" stroke-width="4" stroke-linecap="round"/>
<line x1="2187" y1="1666.03" x2="2168.6" y2="1666.03" stroke="#1a1a1a" stroke-width="4" stroke-linecap="round"/>
<line x1="386" y1="1645.13" x2="404.4" y2="1645.13" stroke="#1a1a1a" stroke-width="4" stroke-linecap="round"/>
<line x1="2187" y1="1645.13" x2="2168.6" y2="1645.13" stroke="#1a1a1a" stroke-width="4" stroke-linecap="round"/>
<line x1="386" y1="1626.69" x2="404.4" y2="1626.69" stroke="#1a1a1a" stroke-width="4" stroke-linecap="round"/>
<line x1="2187" y1="1626.69" x2="2168.6" y2="1626.69" stroke="#1a1a1a" stroke-width="4" stroke-linecap="round"/>
<line x1="386" y1="1610.2" x2="421.4" y2="1610.2" stroke="#1a1a1a" stroke-width="4" stroke-linecap="round"/>
<line x1="2187" y1="1610.2" x2="2151.6" y2="1610.2" stroke="#1a1a1a" stroke-width="4" stroke-linecap="round"/>
<line x1="386" y1="1501.71" x2="404.4" y2="1501.71" stroke="#1a1a1a" stroke-width="4" stroke-linecap="round"/>
<line x1="2187" y1="1501.71" x2="2168.6" y2="1501.71" stroke="#1a1a1a" stroke-width="4" stroke-linecap="round"/>
<line x1="386" y1="1438.25" x2="404.4" y2="1438.25" stroke="#1a1a1a" stroke-width="4" stroke-linecap="round"/>
<line x1="2187" y1="1438.25" x2="2168.6" y2="1438.25" stroke="#1a1a1a" stroke-width="4" stroke-linecap="round"/>
<line x1="386" y1="1393.22" x2="404.4" y2="1393.22" stroke="#1a1a1a" stroke-width="4" stroke-linecap="round"/>
<line x1="2187" y1="1393.22" x2="2168.6" y2="1393.22" stroke="#1a1a1a" stroke-width="4" stroke-linecap="round"/>
<line x1="386" y1="1358.29" x2="404.4" y2="1358.29" stroke="#1a1a1a" stroke-width="4" stroke-linecap="round"/>
<line x1="2187" y1="1358.29" x2="2168.6" y2="1358.29" stroke="#1a1a1a" stroke-width="4" stroke-linecap="round"/>
<line x1="386" y1="1329.75" x2="404.4" y2="1329.75" stroke="#1a1a1a" stroke-width="4" stroke-linecap="round"/>
<line x1="2187" y1="1329.75" x2="2168.6" y2="1329.75" stroke="#1a1a1a" stroke-width="4" stroke-linecap="round"/>
<line x1="386" y1="1305.63" x2="404.4" y2="1305.63" stroke="#1a1a1a" stroke-width="4" stroke-linecap="round"/>
<line x1="2187" y1="1305.63" x2="2168.6" y2="1305.63" stroke="#1a1a1a" stroke-width="4" stroke-linecap="round"/>
<line x1="386" y1="1284.73" x2="404.4" y2="1284.73" stroke="#1a1a1a" stroke-width="4" stroke-linecap="round"/>
<line x1="2187" y1="1284.73" x2="2168.6" y2="1284.73" stroke="#1a1a1a" stroke-width="4" stroke-linecap="round"/>
<line x1="386" y1="1266.29" x2="404.4" y2="1266.29" stroke="#1a1a1a" stroke-width="4" stroke-linecap="round"/>
<line x1="2187" y1="1266.29" x2="2168.6" y2="1266.29" stroke="#1a1a1a" stroke-width="4" stroke-linecap="round"/>
<line x1="386" y1="1249.8" x2="421.4" y2="1249.8" stroke="#1a1a1a" stroke-width="4" stroke-linecap="round"/>
<line x1="2187" y1="1249.8" x2="2151.6" y2="1249.8" stroke="#1a1a1a" stroke-width="4" stroke-linecap="round"/>
<line x1="386" y1="1141.31" x2="404.4" y2="1141.31" stroke="#1a1a1a" stroke-width="4" stroke-linecap="round"/>
<line x1="2187" y1="1141.31" x2="2168.6" y2="1141.31" stroke="#1a1a1a" stroke-width="4" stroke-linecap="round"/>
<line x1="386" y1="1077.85" x2="404.4" y2="1077.85" stroke="#1a1a1a" stroke-width="4" stroke-linecap="round"/>
<line x1="2187" y1="1077.85" x2="2168.6" y2="1077.85" stroke="#1a1a1a" stroke-width="4" stroke-linecap="round"/>
<line x1="386" y1="1032.82" x2="404.4" y2="1032.82" stroke="#1a1a1a" stroke-width="4" stroke-linecap="round"/>
<line x1="2187" y1="1032.82" x2="2168.6" y2="1032.82" stroke="#1a1a1a" stroke-width="4" stroke-linecap="round"/>
<line x1="386" y1="997.89" x2="404.4" y2="997.89" stroke="#1a1a1a" stroke-width="4" stroke-linecap="round"/>
<line x1="2187" y1="997.89" x2="2168.6" y2="997.89" stroke="#1a1a1a" stroke-width="4" stroke-linecap="round"/>
<line x1="386" y1="969.35" x2="404.4" y2="969.35" stroke="#1a1a1a" stroke-width="4" stroke-linecap="round"/>
<line x1="2187" y1="969.35" x2="2168.6" y2="969.35" stroke="#1a1a1a" stroke-width="4" stroke-linecap="round"/>
<line x1="386" y1="945.23" x2="404.4" y2="945.23" stroke="#1a1a1a" stroke-width="4" stroke-linecap="round"/>
<line x1="2187" y1="945.23" x2="2168.6" y2="945.23" stroke="#1a1a1a" stroke-width="4" stroke-linecap="round"/>
<line x1="386" y1="924.33" x2="404.4" y2="924.33" stroke="#1a1a1a" stroke-width="4" stroke-linecap="round"/>
<line x1="2187" y1="924.33" x2="2168.6" y2="924.33" stroke="#1a1a1a" stroke-width="4" stroke-linecap="round"/>
<line x1="386" y1="905.89" x2="404.4" y2="905.89" stroke="#1a1a1a" stroke-width="4" stroke-linecap="round"/>
<line x1="2187" y1="905.89" x2="2168.6" y2="905.89" stroke="#1a1a1a" stroke-width="4" stroke-linecap="round"/>
<line x1="386" y1="889.4" x2="421.4" y2="889.4" stroke="#1a1a1a" stroke-width="4" stroke-linecap="round"/>
<line x1="2187" y1="889.4" x2="2151.6" y2="889.4" stroke="#1a1a1a" stroke-width="4" stroke-linecap="round"/>
<line x1="386" y1="780.91" x2="404.4" y2="780.91" stroke="#1a1a1a" stroke-width="4" stroke-linecap="round"/>
<line x1="2187" y1="780.91" x2="2168.6" y2="780.91" stroke="#1a1a1a" stroke-width="4" stroke-linecap="round"/>
<line x1="386" y1="717.45" x2="404.4" y2="717.45" stroke="#1a1a1a" stroke-width="4" stroke-linecap="round"/>
<line x1="2187" y1="717.45" x2="2168.6" y2="717.45" stroke="#1a1a1a" stroke-width="4" stroke-linecap="round"/>
<line x1="386" y1="672.42" x2="404.4" y2="672.42" stroke="#1a1a1a" stroke-width="4" stroke-linecap="round"/>
<line x1="2187" y1="672.42" x2="2168.6" y2="672.42" stroke="#1a1a1a" stroke-width="4" stroke-linecap="round"/>
<line x1="386" y1="637.49" x2="404.4" y2="637.49" stroke="#1a1a1a" stroke-width="4" stroke-linecap="round"/>
<line x1="2187" y1="637.49" x2="2168.6" y2="637.49" stroke="#1a1a1a" stroke-width="4" stroke-linecap="round"/>
<line x1="386" y1="608.95" x2="404.4" y2="608.95" stroke="#1a1a1a" stroke-width="4" stroke-linecap="round"/>
<line x1="2187" y1="608.95" x2="2168.6" y2="608.95" stroke="#1a1a1a" stroke-width="4" stroke-linecap="round"/>
<line x1="386" y1="584.83" x2="404.4" y2="584.83" stroke="#1a1a1a" stroke-width="4" stroke-linecap="round"/>
<line x1="2187" y1="584.83" x2="2168.6" y2="584.83" stroke="#1a1a1a" stroke-width="4" stroke-linecap="round"/>
<line x1="386" y1="563.93" x2="404.4" y2="563.93" stroke="#1a1a1a" stroke-width="4" stroke-linecap="round"/>
<line x1="2187" y1="563.93" x2="2168.6" y2="563.93" stroke="#1a1a1a" stroke-width="4" stroke-linecap="round"/>
<line x1="386" y1="545.49" x2="404.4" y2="545.49" stroke="#1a1a1a" stroke-width="4" stroke-linecap="round"/>
<line x1="2187" y1="545.49" x2="2168.6" y2="545.49" stroke="#1a1a1a" stroke-width="4" stroke-linecap="round"/>
<line x1="386" y1="529" x2="421.4" y2="529" stroke="#1a1a1a" stroke-width="4" stroke-linecap="round"/>
<line x1="2187" y1="529" x2="2151.6" y2="529" stroke="#1a1a1a" stroke-width="4" stroke-linecap="round"/>
<line x1="386" y1="2331" x2="386" y2="2295.6" stroke="#1a1a1a" stroke-width="4" stroke-linecap="round"/>
<line x1="386" y1="529" x2="386" y2="564.4" stroke="#1a1a1a" stroke-width="4" stroke-linecap="round"/>
<line x1="494.43" y1="2331" x2="494.43" y2="2312.6" stroke="#1a1a1a" stroke-width="4" stroke-linecap="round"/>
<line x1="494.43" y1="529" x2="494.43" y2="547.4" stroke="#1a1a1a" stroke-width="4" stroke-linecap="round"/>
<line x1="557.86" y1="2331" x2="557.86" y2="2312.6" stroke="#1a1a1a" stroke-width="4" stroke-linecap="round"/>
<line x1="557.86" y1="529" x2="557.86" y2="547.4" stroke="#1a1a1a" stroke-width="4" stroke-linecap="round"/>
<line x1="602.86" y1="2331" x2="602.86" y2="2312.6" stroke="#1a1a1a" stroke-width="4" stroke-linecap="round"/>
<line x1="602.86" y1="529" x2="602.86" y2="547.4" stroke="#1a1a1a" stroke-width="4" stroke-linecap="round"/>
<line x1="637.77" y1="2331" x2="637.77" y2="2312.6" stroke="#1a1a1a" stroke-width="4" stroke-linecap="round"/>
<line x1="637.77" y1="529" x2="637.77" y2="547.4" stroke="#1a1a1a" stroke-width="4" stroke-linecap="round"/>
<line x1="666.29" y1="2331" x2="666.29" y2="2312.6" stroke="#1a1a1a" stroke-width="4" stroke-linecap="round"/>
<line x1="666.29" y1="529" x2="666.29" y2="547.4" stroke="#1a1a1a" stroke-width="4" stroke-linecap="round"/>
<line x1="690.4" y1="2331" x2="690.4" y2="2312.6" stroke="#1a1a1a" stroke-width="4" stroke-linecap="round"/>
<line x1="690.4" y1="529" x2="690.4" y2="547.4" stroke="#1a1a1a" stroke-width="4" stroke-linecap="round"/>
<line x1="711.29" y1="2331" x2="711.29" y2="2312.6" stroke="#1a1a1a" stroke-width="4" stroke-linecap="round"/>
<line x1="711.29" y1="529" x2="711.29" y2="547.4" stroke="#1a1a1a" stroke-width="4" stroke-linecap="round"/>
<line x1="729.72" y1="2331" x2="729.72" y2="2312.6" stroke="#1a1a1a" stroke-width="4" stroke-linecap="round"/>
<line x1="729.72" y1="529" x2="729.72" y2="547.4" stroke="#1a1a1a" stroke-width="4" stroke-linecap="round"/>
<line x1="746.2" y1="2331" x2="746.2" y2="2295.6" stroke="#1a1a1a" stroke-width="4" stroke-linecap="round"/>
<line x1="746.2" y1="529" x2="746.2" y2="564.4" stroke="#1a1a1a" stroke-width="4" stroke-linecap="round"/>
<line x1="854.63" y1="2331" x2="854.63" y2="2312.6" stroke="#1a1a1a" stroke-width="4" stroke-linecap="round"/>
<line x1="854.63" y1="529" x2="854.63" y2="547.4" stroke="#1a1a1a" stroke-width="4" stroke-linecap="round"/>
<line x1="918.06" y1="2331" x2="918.06" y2="2312.6" stroke="#1a1a1a" stroke-width="4" stroke-linecap="round"/>
<line x1="918.06" y1="529" x2="918.06" y2="547.4" stroke="#1a1a1a" stroke-width="4" stroke-linecap="round"/>
<line x1="963.06" y1="2331" x2="963.06" y2="2312.6" stroke="#1a1a1a" stroke-width="4" stroke-linecap="round"/>
<line x1="963.06" y1="529" x2="963.06" y2="547.4" stroke="#1a1a1a" stroke-width="4" stroke-linecap="round"/>
<line x1="997.97" y1="2331" x2="997.97" y2="2312.6" stroke="#1a1a1a" stroke-width="4" stroke-linecap="round"/>
<line x1="997.97" y1="529" x2="997.97" y2="547.4" stroke="#1a1a1a" stroke-width="4" stroke-linecap="round"/>
<line x1="1026.49" y1="2331" x2="1026.49" y2="2312.6" stroke="#1a1a1a" stroke-width="4" stroke-linecap="round"/>
<line x1="1026.49" y1="529" x2="1026.49" y2="547.4" stroke="#1a1a1a" stroke-width="4" stroke-linecap="round"/>
<line x1="1050.6" y1="2331" x2="1050.6" y2="2312.6" stroke="#1a1a1a" stroke-width="4" stroke-linecap="round"/>
<line x1="1050.6" y1="529" x2="1050.6" y2="547.4" stroke="#1a1a1a" stroke-width="4" stroke-linecap="round"/>
<line x1="1071.49" y1="2331" x2="1071.49" y2="2312.6" stroke="#1a1a1a" stroke-width="4" stroke-linecap="round"/>
<line x1="1071.49" y1="529" x2="1071.49" y2="547.4" stroke="#1a1a1a" stroke-width="4" stroke-linecap="round"/>
<line x1="1089.92" y1="2331" x2="1089.92" y2="2312.6" stroke="#1a1a1a" stroke-width="4" stroke-linecap="round"/>
<line x1="1089.92" y1="529" x2="1089.92" y2="547.4" stroke="#1a1a1a" stroke-width="4" stroke-linecap="round"/>
<line x1="1106.4" y1="2331" x2="1106.4" y2="2295.6" stroke="#1a1a1a" stroke-width="4" stroke-linecap="round"/>
<line x1="1106.4" y1="529" x2="1106.4" y2="564.4" stroke="#1a1a1a" stroke-width="4" stroke-linecap="round"/>
<line x1="1214.83" y1="2331" x2="1214.83" y2="2312.6" stroke="#1a1a1a" stroke-width="4" stroke-linecap="round"/>
<line x1="1214.83" y1="529" x2="1214.83" y2="547.4" stroke="#1a1a1a" stroke-width="4" stroke-linecap="round"/>
<line x1="1278.26" y1="2331" x2="1278.26" y2="2312.6" stroke="#1a1a1a" stroke-width="4" stroke-linecap="round"/>
<line x1="1278.26" y1="529" x2="1278.26" y2="547.4" stroke="#1a1a1a" stroke-width="4" stroke-linecap="round"/>
<line x1="1323.26" y1="2331" x2="1323.26" y2="2312.6" stroke="#1a1a1a" stroke-width="4" stroke-linecap="round"/>
<line x1="1323.26" y1="529" x2="1323.26" y2="547.4" stroke="#1a1a1a" stroke-width="4" stroke-linecap="round"/>
<line x1="1358.17" y1="2331" x2="1358.17" y2="2312.6" stroke="#1a1a1a" stroke-width="4" stroke-linecap="round"/>
<line x1="1358.17" y1="529" x2="1358.17" y2="547.4" stroke="#1a1a1a" stroke-width="4" stroke-linecap="round"/>
<line x1="1386.69" y1="2331" x2="1386.69" y2="2312.6" stroke="#1a1a1a" stroke-width="4" stroke-linecap="round"/>
<line x1="1386.69" y1="529" x2="1386.69" y2="547.4" stroke="#1a1a1a" stroke-width="4" stroke-linecap="round"/>
<line x1="1410.8" y1="2331" x2="1410.8" y2="2312.6" stroke="#1a1a1a" stroke-width="4" stroke-linecap="round"/>
<line x1="1410.8" y1="529" x2="1410.8" y2="547.4" stroke="#1a1a1a" stroke-width="4" stroke-linecap="round"/>
<line x1="1431.69" y1="2331" x2="1431.69" y2="2312.6" stroke="#1a1a1a" stroke-width="4" stroke-linecap="round"/>
<line x1="1431.69" y1="529" x2="1431.69" y2="547.4" stroke="#1a1a1a" stroke-width="4" stroke-linecap="round"/>
<line x1="1450.12" y1="2331" x2="1450.12" y2="2312.6" stroke="#1a1a1a" stroke-width="4" stroke-linecap="round"/>
<line x1="1450.12" y1="529" x2="1450.12" y2="547.4" stroke="#1a1a1a" stroke-width="4" stroke-linecap="round"/>
<line x1="1466.6" y1="2331" x2="1466.6" y2="2295.6" stroke="#1a1a1a" stroke-width="4" stroke-linecap="round"/>
<line x1="1466.6" y1="529" x2="1466.6" y2="564.4" stroke="#1a1a1a" stroke-width="4" stroke-linecap="round"/>
<line x1="1575.03" y1="2331" x2="1575.03" y2="2312.6" stroke="#1a1a1a" stroke-width="4" stroke-linecap="round"/>
<line x1="1575.03" y1="529" x2="1575.03" y2="547.4" stroke="#1a1a1a" stroke-width="4" stroke-linecap="round"/>
<line x1="1638.46" y1="2331" x2="1638.46" y2="2312.6" stroke="#1a1a1a" stroke-width="4" stroke-linecap="round"/>
<line x1="1638.46" y1="529" x2="1638.46" y2="547.4" stroke="#1a1a1a" stroke-width="4" stroke-linecap="round"/>
<line x1="1683.46" y1="2331" x2="1683.46" y2="2312.6" stroke="#1a1a1a" stroke-width="4" stroke-linecap="round"/>
<line x1="1683.46" y1="529" x2="1683.46" y2="547.4" stroke="#1a1a1a" stroke-width="4" stroke-linecap="round"/>
<line x1="1718.37" y1="2331" x2="1718.37" y2="2312.6" stroke="#1a1a1a" stroke-width="4" stroke-linecap="round"/>
<line x1="1718.37" y1="529" x2="1718.37" y2="547.4" stroke="#1a1a1a" stroke-width="4" stroke-linecap="round"/>
<line x1="1746.89" y1="2331" x2="1746.89" y2="2312.6" stroke="#1a1a1a" stroke-width="4" stroke-linecap="round"/>
<line x1="1746.89" y1="529" x2="1746.89" y2="547.4" stroke="#1a1a1a" stroke-width="4" stroke-linecap="round"/>
<line x1="1771" y1="2331" x2="1771" y2="2312.6" stroke="#1a1a1a" stroke-width="4" stroke-linecap="round"/>
<line x1="1771" y1="529" x2="1771" y2="547.4" stroke="#1a1a1a" stroke-width="4" stroke-linecap="round"/>
<line x1="1791.89" y1="2331" x2="1791.89" y2="2312.6" stroke="#1a1a1a" stroke-width="4" stroke-linecap="round"/>
<line x1="1791.89" y1="529" x2="1791.89" y2="547.4" stroke="#1a1a1a" stroke-width="4" stroke-linecap="round"/>
<line x1="1810.32" y1="2331" x2="1810.32" y2="2312.6" stroke="#1a1a1a" stroke-width="4" stroke-linecap="round"/>
<line x1="1810.32" y1="529" x2="1810.32" y2="547.4" stroke="#1a1a1a" stroke-width="4" stroke-linecap="round"/>
<line x1="1826.8" y1="2331" x2="1826.8" y2="2295.6" stroke="#1a1a1a" stroke-width="4" stroke-linecap="round"/>
<line x1="1826.8" y1="529" x2="1826.8" y2="564.4" stroke="#1a1a1a" stroke-width="4" stroke-linecap="round"/>
<line x1="1935.23" y1="2331" x2="1935.23" y2="2312.6" stroke="#1a1a1a" stroke-width="4" stroke-linecap="round"/>
<line x1="1935.23" y1="529" x2="1935.23" y2="547.4" stroke="#1a1a1a" stroke-width="4" stroke-linecap="round"/>
<line x1="1998.66" y1="2331" x2="1998.66" y2="2312.6" stroke="#1a1a1a" stroke-width="4" stroke-linecap="round"/>
<line x1="1998.66" y1="529" x2="1998.66" y2="547.4" stroke="#1a1a1a" stroke-width="4" stroke-linecap="round"/>
<line x1="2043.66" y1="2331" x2="2043.66" y2="2312.6" stroke="#1a1a1a" stroke-width="4" stroke-linecap="round"/>
<line x1="2043.66" y1="529" x2="2043.66" y2="547.4" stroke="#1a1a1a" stroke-width="4" stroke-linecap="round"/>
<line x1="2078.57" y1="2331" x2="2078.57" y2="2312.6" stroke="#1a1a1a" stroke-width="4" stroke-linecap="round"/>
<line x1="2078.57" y1="529" x2="2078.57" y2="547.4" stroke="#1a1a1a" stroke-width="4" stroke-linecap="round"/>
<line x1="2107.09" y1="2331" x2="2107.09" y2="2312.6" stroke="#1a1a1a" stroke-width="4" stroke-linecap="round"/>
<line x1="2107.09" y1="529" x2="2107.09" y2="547.4" stroke="#1a1a1a" stroke-width="4" stroke-linecap="round"/>
<line x1="2131.2" y1="2331" x2="2131.2" y2="2312.6" stroke="#1a1a1a" stroke-width="4" stroke-linecap="round"/>
<line x1="2131.2" y1="529" x2="2131.2" y2="547.4" stroke="#1a1a1a" stroke-width="4" stroke-linecap="round"/>
<line x1="2152.09" y1="2331" x2="2152.09" y2="2312.6" stroke="#1a1a1a" stroke-width="4" stroke-linecap="round"/>
<line x1="2152.09" y1="529" x2="2152.09" y2="547.4" stroke="#1a1a1a" stroke-width="4" stroke-linecap="round"/>
<line x1="2170.52" y1="2331" x2="2170.52" y2="2312.6" stroke="#1a1a1a" stroke-width="4" stroke-linecap="round"/>
<line x1="2170.52" y1="529" x2="2170.52" y2="547.4" stroke="#1a1a1a" stroke-width="4" stroke-linecap="round"/>
<line x1="2187" y1="2331" x2="2187" y2="2295.6" stroke="#1a1a1a" stroke-width="4" stroke-linecap="round"/>
<line x1="2187" y1="529" x2="2187" y2="564.4" stroke="#1a1a1a" stroke-width="4" stroke-linecap="round"/>
<rect x="386.0" y="529.0" width="1801.0" height="1802.0" fill="none" stroke="#1a1a1a" stroke-width="4" stroke-linejoin="round"/>
<text x="374.6" y="59.75" font-size="37.5" text-anchor="end" fill="#141414">10</text>
<text x="374.6" y="99.06" font-size="37.5" text-anchor="end" fill="#141414">6</text>
<text x="374.6" y="138.63" font-size="37.5" text-anchor="end" fill="#141414">3</text>
<text x="374.6" y="179" font-size="37.5" text-anchor="end" fill="#141414">1</text>
<text x="374.6" y="234.15" font-size="37.5" text-anchor="end" fill="#141414">0</text>
<text x="374.6" y="289.3" font-size="37.5" text-anchor="end" fill="#141414">-1</text>
<text x="374.6" y="329.67" font-size="37.5" text-anchor="end" fill="#141414">-3</text>
<text x="374.6" y="369.24" font-size="37.5" text-anchor="end" fill="#141414">-6</text>
<text x="374.6" y="408.55" font-size="37.5" text-anchor="end" fill="#141414">-10</text>
<text x="492.7" y="470.5" font-size="37.5" text-anchor="middle" fill="#141414">2</text>
<text x="600.99" y="470.5" font-size="37.5" text-anchor="middle" fill="#141414">4</text>
<text x="709.28" y="470.5" font-size="37.5" text-anchor="middle" fill="#141414">8</text>
<text x="817.57" y="470.5" font-size="37.5" text-anchor="middle" fill="#141414">16</text>
<text x="925.86" y="470.5" font-size="37.5" text-anchor="middle" fill="#141414">31</text>
<text x="1034.15" y="470.5" font-size="37.5" text-anchor="middle" fill="#141414">63</text>
<text x="1142.44" y="470.5" font-size="37.5" text-anchor="middle" fill="#141414">125</text>
<text x="1250.73" y="470.5" font-size="37.5" text-anchor="middle" fill="#141414">250</text>
<text x="1359.02" y="470.5" font-size="37.5" text-anchor="middle" fill="#141414">500</text>
<text x="1467.31" y="470.5" font-size="37.5" text-anchor="middle" fill="#141414">1km</text>
<text x="1575.6" y="470.5" font-size="37.5" text-anchor="middle" fill="#141414">2</text>
<text x="1683.89" y="470.5" font-size="37.5" text-anchor="middle" fill="#141414">4</text>
<text x="1792.18" y="470.5" font-size="37.5" text-anchor="middle" fill="#141414">8</text>
<text x="1900.47" y="470.5" font-size="37.5" text-anchor="middle" fill="#141414">16</text>
<text x="2008.76" y="470.5" font-size="37.5" text-anchor="middle" fill="#141414">32</text>
<text x="2117.05" y="470.5" font-size="37.5" text-anchor="middle" fill="#141414">64</text>
<text x="271.03" y="575.7" font-size="63.0" fill="#141414">10</text>
<text x="339.59" y="537.7" font-size="38.5" fill="#141414">1</text>
<text x="271.03" y="916.7" font-size="63.0" fill="#141414">10</text>
<text x="339.59" y="878.7" font-size="38.5" fill="#141414">0</text>
<text x="259.41" y="1277.1" font-size="63.0" fill="#141414">10</text>
<text x="326.77" y="1239.1" font-size="38.5" fill="#141414">-1</text>
<text x="259.41" y="1637.5" font-size="63.0" fill="#141414">10</text>
<text x="326.77" y="1599.5" font-size="38.5" fill="#141414">-2</text>
<text x="259.41" y="1997.9" font-size="63.0" fill="#141414">10</text>
<text x="326.77" y="1959.9" font-size="38.5" fill="#141414">-3</text>
<text x="259.41" y="2331.1" font-size="63.0" fill="#141414">10</text>
<text x="326.77" y="2293.1" font-size="38.5" fill="#141414">-4</text>
<text x="336.8" y="2433.5" font-size="63.0" fill="#141414">10</text>
<text x="405.36" y="2394.5" font-size="38.5" fill="#141414">-3</text>
<text x="697" y="2433.5" font-size="63.0" fill="#141414">10</text>
<text x="765.56" y="2394.5" font-size="38.5" fill="#141414">-2</text>
<text x="1057.2" y="2433.5" font-size="63.0" fill="#141414">10</text>
<text x="1125.76" y="2394.5" font-size="38.5" fill="#141414">-1</text>
<text x="1423.82" y="2433.5" font-size="63.0" fill="#141414">10</text>
<text x="1492.37" y="2394.5" font-size="38.5" fill="#141414">0</text>
<text x="1784.02" y="2433.5" font-size="63.0" fill="#141414">10</text>
<text x="1852.57" y="2394.5" font-size="38.5" fill="#141414">1</text>
<text x="2144.22" y="2433.5" font-size="63.0" fill="#141414">10</text>
<text x="2212.77" y="2394.5" font-size="38.5" fill="#141414">2</text>
<text transform="translate(1095.1,2520.8) scale(1.0389,1)" font-size="62.52" fill="#141414">Diameter, km</text>
<text transform="translate(186,1909.22) rotate(-90) scale(0.9862,1)" font-size="65.35" fill="#141414">Cumulative crater frequency, km</text>
<text transform="translate(149.2,985.8) rotate(-90)" font-size="40" fill="#141414">-2</text>
<text transform="translate(72,244.81) rotate(-90) scale(0.9936,1)" font-size="63.7" fill="#141414">n</text>
<text transform="translate(93.2,211.15) rotate(-90) scale(1.0711,1)" font-size="31.51" fill="#141414">σ</text>
<text transform="translate(138.9,301.7) rotate(-90) scale(1.0283,1)" font-size="62.76" fill="#141414">clustered</text>
<text transform="translate(142.7,390.26) rotate(-90) scale(1.1609,1)" font-size="64.83" fill="#141414">&lt;</text>
<text transform="translate(138.9,356.77) rotate(-90) scale(0.9205,1)" font-size="62" fill="#141414">--</text>
<text transform="translate(206.8,374.79) rotate(-90) scale(1.0754,1)" font-size="60.28" fill="#141414">ordered</text>
<text transform="translate(207.1,133.32) rotate(-90) scale(0.9399,1)" font-size="62" fill="#141414">--</text>
<text transform="translate(209,105.97) rotate(-90) scale(1.0773,1)" font-size="62.59" fill="#141414">&gt;</text>
<line x1="1688" y1="87.3" x2="1756" y2="87.3" stroke="#555" stroke-width="7" stroke-linecap="round"/>
<line x1="1688" y1="87.3" x2="1756" y2="87.3" stroke="#cfcfcf" stroke-width="4" stroke-linecap="round"/>
<text transform="translate(1772.67,104.5) scale(0.9967,1)" font-size="44.29" fill="#222">M2CND, 300 iters</text>
<text transform="translate(1314.72,1036.8) scale(0.9381,1)" font-size="87.29" fill="#141414">3.61</text>
<text transform="translate(1640.86,1036.8) scale(0.9313,1)" font-size="91" fill="#141414">Ga</text>
<text transform="translate(1491.16,983.7) scale(0.9946,1)" font-size="53.14" fill="#141414">+0.03</text>
<text transform="translate(1501.97,1064.7) scale(1.0148,1)" font-size="53.14" fill="#141414">-0.03</text>
<text transform="translate(852.29,1224.2) scale(1.0117,1)" font-size="89.14" fill="#141414">3.57</text>
<text transform="translate(1179.62,1224.2) scale(0.8995,1)" font-size="93" fill="#141414">Ga</text>
<text transform="translate(1029.83,1169.7) scale(1.0073,1)" font-size="53" fill="#141414">+0.03</text>
<text transform="translate(1039.34,1250.7) scale(1.0300,1)" font-size="53.14" fill="#141414">-0.04</text>
<text transform="translate(494.93,2153) scale(1.0268,1)" font-size="43.43" fill="#222">PF: Moon, Neukum et al. (2001)</text>
<text transform="translate(495.57,2225.2) scale(1.0554,1)" font-size="42.29" fill="#222">CF: Moon, Neukum et al. (2001)</text>
<text transform="translate(1588.97,653.2) scale(0.9809,1)" font-size="49.93" fill="#141414">hmN</text>
<text x="1691.4" y="653.2" font-size="46" fill="#141414">,</text>
<text transform="translate(1720.31,653.2) scale(0.9603,1)" font-size="47.97" fill="#141414">N(1)=6.02x10</text>
<text transform="translate(2000.02,626) scale(1.0160,1)" font-size="25.71" fill="#141414">-3</text>
<text transform="translate(2035.06,652.4) scale(1.1060,1)" font-size="42.34" fill="#141414">km</text>
<text transform="translate(2097.08,625.7) scale(1.1254,1)" font-size="24.14" fill="#141414">-2</text>
<text transform="translate(1592.06,723.5) scale(1.0814,1)" font-size="45.38" fill="#141414">hmS</text>
<text x="1693.7" y="723.5" font-size="46" fill="#141414">,</text>
<text transform="translate(1720.31,723.5) scale(0.9603,1)" font-size="47.97" fill="#141414">N(1)=6.96x10</text>
<text transform="translate(2000.02,696.3) scale(1.0160,1)" font-size="25.71" fill="#141414">-3</text>
<text transform="translate(2035.06,722.7) scale(1.1060,1)" font-size="42.34" fill="#141414">km</text>
<text transform="translate(2097.08,696) scale(1.1254,1)" font-size="24.14" fill="#141414">-2</text>
</g>
</svg>
</body></html>
